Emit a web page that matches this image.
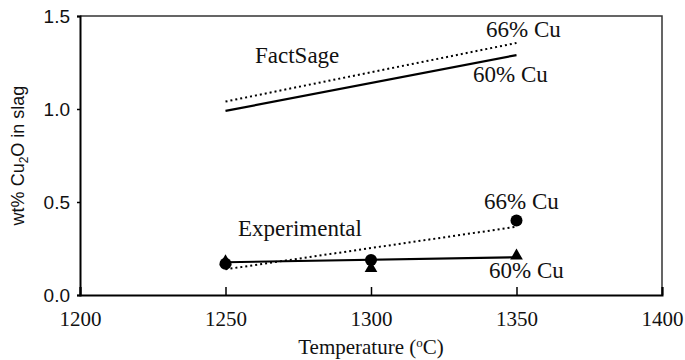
<!DOCTYPE html>
<html lang="en">
  <head>
    <meta charset="UTF-8" />
    <title>Cu2O in slag vs temperature</title>
    <script src="https://d3js.org/d3.v7.min.js"></script>
    <style>
      body {
        margin: 0;
        background: #fff;
      }
    </style>
  </head>
  <body>
    <div id="chart"></div>
    <script>
      const SERIF = "'Liberation Serif', 'Times New Roman', serif";
      const SANS = "'Liberation Sans', Arial, sans-serif";

      // temperatures (oC)
      const temps = [1250, 1300, 1350];

      // FactSage predictions (straight lines)
      const factSage60 = [0.99, 1.29];
      const factSage66 = [1.04, 1.355];
      const factSageT = [1250, 1350];

      // experimental points
      const exp60 = [0.18, 0.143, 0.21];
      const exp66 = [0.168, 0.188, 0.4];
      // linear trend lines of the experiments
      const exp60Trend = [0.176, 0.203];
      const exp66Trend = [0.138, 0.367];

      const xTicks = [1200, 1250, 1300, 1350, 1400];
      const yTicks = [0, 0.5, 1.0, 1.5];

      const width = 685;
      const height = 360;
      const margin = { top: 16, right: 23, bottom: 65, left: 80 };

      const svg = d3
        .select('#chart')
        .append('svg')
        .attr('width', width)
        .attr('height', height);

      const x = d3
        .scaleLinear()
        .domain([1200, 1400])
        .range([margin.left, width - margin.right]);
      const y = d3
        .scaleLinear()
        .domain([0, 1.5])
        .range([height - margin.bottom, margin.top]);

      // frame top & right
      svg
        .append('path')
        .attr('d', `M${x(1200)},${y(1.5)}H${x(1400)}V${y(0)}`)
        .attr('fill', 'none')
        .attr('stroke', '#333')
        .attr('stroke-width', 1.5);

      // x axis (ticks pointing inward)
      const xAxis = svg
        .append('g')
        .attr('transform', `translate(0,${y(0)})`)
        .call(
          d3
            .axisBottom(x)
            .tickValues(xTicks)
            .tickSize(-8)
            .tickPadding(16)
            .tickFormat(d3.format('d'))
        );
      xAxis.attr('font-family', SERIF).attr('font-size', 21);
      xAxis.select('.domain').attr('stroke', '#000').attr('stroke-width', 2);
      xAxis.selectAll('.tick line').attr('stroke-width', 1.5);
      xAxis.selectAll('text').attr('fill', '#111');

      // y axis
      const yAxis = svg
        .append('g')
        .attr('transform', `translate(${x(1200)},0)`)
        .call(
          d3
            .axisLeft(y)
            .tickValues(yTicks)
            .tickSize(3)
            .tickPadding(7)
            .tickFormat(d3.format('.1f'))
        );
      yAxis.attr('font-family', SANS).attr('font-size', 19);
      yAxis.select('.domain').attr('stroke', '#000').attr('stroke-width', 2);
      yAxis.selectAll('.tick line').attr('stroke-width', 1.5);
      yAxis.selectAll('text').attr('fill', '#111');

      // axis titles
      const xTitle = svg
        .append('text')
        .attr('font-family', SERIF)
        .attr('x', x(1300))
        .attr('y', 354)
        .attr('text-anchor', 'middle')
        .attr('font-size', 21)
        .attr('fill', '#111');
      xTitle.append('tspan').text('Temperature (');
      xTitle.append('tspan').attr('font-size', 13).attr('dy', -7).text('o');
      xTitle.append('tspan').attr('dy', 7).text('C)');

      const yTitle = svg
        .append('text')
        .attr('font-family', SANS)
        .attr('transform', `translate(24,${(y(0) + y(1.5)) / 2}) rotate(-90)`)
        .attr('text-anchor', 'middle')
        .attr('font-size', 18)
        .attr('fill', '#111');
      yTitle.append('tspan').text('wt% Cu');
      yTitle.append('tspan').attr('font-size', 12).attr('dy', 4).text('2');
      yTitle.append('tspan').attr('dy', -4).text('O in slag');

      const line = d3
        .line()
        .x((d) => x(d[0]))
        .y((d) => y(d[1]));

      function drawLine(tArr, vArr, dotted) {
        svg
          .append('path')
          .attr('d', line(d3.zip(tArr, vArr)))
          .attr('fill', 'none')
          .attr('stroke', '#000')
          .attr('stroke-width', dotted ? 2 : 2.2)
          .attr('stroke-dasharray', dotted ? '2,3' : null);
      }

      drawLine(factSageT, factSage66, true);
      drawLine(factSageT, factSage60, false);
      drawLine(factSageT, exp66Trend, true);
      drawLine(factSageT, exp60Trend, false);

      // markers
      svg
        .selectAll('.tri')
        .data(d3.zip(temps, exp60))
        .join('path')
        .attr('class', 'tri')
        .attr('d', d3.symbol(d3.symbolTriangle, 70))
        .attr('transform', (d) => `translate(${x(d[0])},${y(d[1])})`)
        .attr('fill', '#000');

      svg
        .selectAll('.dot')
        .data(d3.zip(temps, exp66))
        .join('circle')
        .attr('class', 'dot')
        .attr('cx', (d) => x(d[0]))
        .attr('cy', (d) => y(d[1]))
        .attr('r', 6)
        .attr('fill', '#000');

      // annotations
      const notes = [
        { text: 'FactSage', x: 255, y: 63 },
        { text: '66% Cu', x: 486, y: 37 },
        { text: '60% Cu', x: 473, y: 82 },
        { text: 'Experimental', x: 238, y: 236 },
        { text: '66% Cu', x: 484, y: 209 },
        { text: '60% Cu', x: 489, y: 278 },
      ];
      svg
        .selectAll('.note')
        .data(notes)
        .join('text')
        .attr('class', 'note')
        .attr('font-family', SERIF)
        .attr('x', (d) => d.x)
        .attr('y', (d) => d.y)
        .attr('font-size', 23)
        .attr('fill', '#111')
        .text((d) => d.text);
    </script>
  </body>
</html>
